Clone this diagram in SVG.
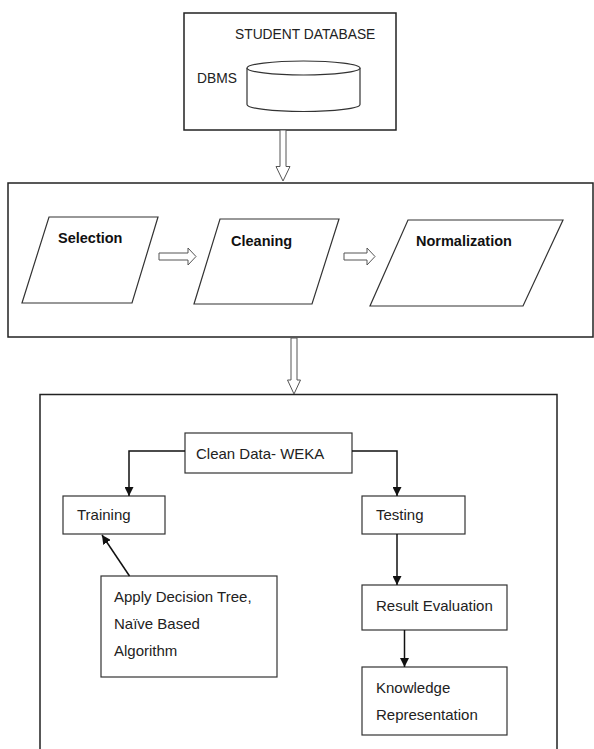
<svg xmlns="http://www.w3.org/2000/svg" width="594" height="749" viewBox="0 0 594 749">
<defs>
<marker id="ah" viewBox="0 0 10 10" refX="10" refY="5" markerWidth="9" markerHeight="9" markerUnits="userSpaceOnUse" orient="auto">
<path d="M0,0 L10,5 L0,10 Z" fill="#111"/>
</marker>
</defs>
<style>
.frame{fill:#fff;stroke:#222;stroke-width:1.5}
.shape{fill:#fff;stroke:#333;stroke-width:1.2}
.hollow{fill:#fff;stroke:#555;stroke-width:1}
.conn{fill:none;stroke:#111;stroke-width:1.5}
text{font-family:"Liberation Sans",Arial,sans-serif;fill:#222}
.t15{font-size:15px}
.t14{font-size:13.8px}
.b{font-size:14.5px;font-weight:bold;fill:#111}
</style>
<rect width="594" height="749" fill="#fff"/>

<g id="student-database">
<rect class="frame" x="184" y="13" width="212" height="117"/>
<text class="t14" x="235" y="39">STUDENT DATABASE</text>
<text class="t14" x="197" y="83">DBMS</text>
<path class="shape" d="M247,68 L247,104.5 A56.5,7 0 0 0 360,104.5 L360,68"/>
<ellipse class="shape" cx="303.5" cy="68" rx="56.5" ry="7"/>
</g>

<g id="preprocessing">
<rect class="frame" x="8" y="183" width="585" height="154"/>
</g>
<g id="selection">
<polygon class="shape" points="49,217 158,217 132,303 22,303"/>
<text class="b" x="58" y="243">Selection</text>
</g>
<g id="cleaning">
<polygon class="shape" points="220,219 339,219 312,304 194,304"/>
<text class="b" x="231" y="246">Cleaning</text>
</g>
<g id="normalization">
<polygon class="shape" points="408,220 563,220 523,306 370,306"/>
<text class="b" x="416" y="246">Normalization</text>
</g>

<g id="mining">
<rect class="frame" x="40" y="394.5" width="517" height="370"/>
</g>
<g id="clean-data">
<rect class="shape" x="185" y="433" width="167" height="40"/>
<text class="t15" x="196" y="459">Clean Data- WEKA</text>
</g>
<g id="training">
<rect class="shape" x="63" y="496" width="102" height="38"/>
<text class="t15" x="77" y="520">Training</text>
</g>
<g id="testing">
<rect class="shape" x="362" y="496" width="103" height="38"/>
<text class="t15" x="376" y="520">Testing</text>
</g>
<g id="apply-algorithm">
<rect class="shape" x="101" y="576" width="176" height="101"/>
<text class="t15" x="114" y="602">Apply Decision Tree,</text>
<text class="t15" x="114" y="629">Naïve Based</text>
<text class="t15" x="114" y="656">Algorithm</text>
</g>
<g id="result-evaluation">
<rect class="shape" x="362" y="585" width="145" height="45"/>
<text class="t15" x="376" y="611">Result Evaluation</text>
</g>
<g id="knowledge-representation">
<rect class="shape" x="362" y="667" width="145" height="68"/>
<text class="t15" x="376" y="693">Knowledge</text>
<text class="t15" x="376" y="720">Representation</text>
</g>

<g id="connectors">
<polygon class="hollow" points="280,130 286,130 286,166.5 290,166.5 283,181 276,166.5 280,166.5"/>
<polygon class="hollow" points="291,338 297,338 297,380 300.5,380 294,394 287.5,380 291,380"/>
<polygon class="hollow" points="159,253 188,253 188,248 196,256.5 188,265 188,260 159,260"/>
<polygon class="hollow" points="344,253 367,253 367,248 375,256.5 367,265 367,260 344,260"/>
<polyline class="conn" points="185,451 129,451 129,496" marker-end="url(#ah)"/>
<polyline class="conn" points="352,451 397,451 397,496" marker-end="url(#ah)"/>
<line class="conn" x1="397" y1="534" x2="397" y2="585" marker-end="url(#ah)"/>
<line class="conn" x1="404.5" y1="630" x2="404.5" y2="667" marker-end="url(#ah)"/>
<line class="conn" x1="129.5" y1="576" x2="102" y2="535" marker-end="url(#ah)"/>
</g>
</svg>
